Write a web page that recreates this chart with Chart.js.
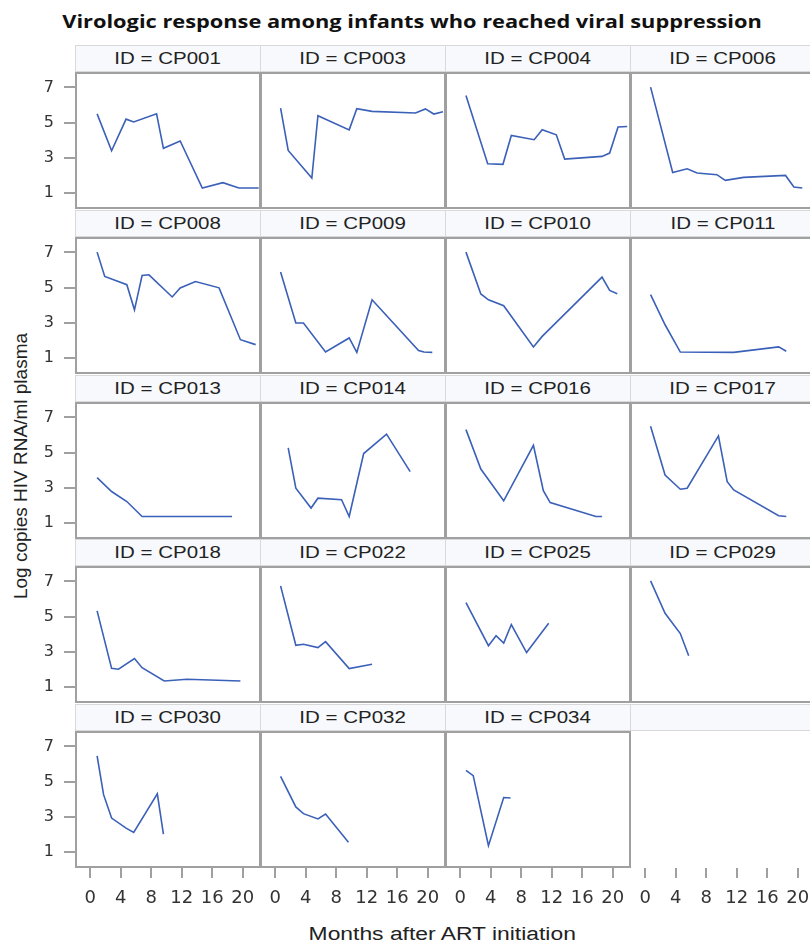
<!DOCTYPE html>
<html>
<head>
<meta charset="utf-8">
<script src="https://cdn.jsdelivr.net/npm/chart.js@4.4.0/dist/chart.umd.min.js"></script>
<style>
  html, body { margin: 0; padding: 0; background: #fff; overflow: hidden; }
  #page { position: relative; width: 810px; height: 944px; overflow: hidden; background: #fff; }
  #page canvas { position: absolute; }
  .title { position: absolute; left: 0; width: 825px; top: 9px; line-height: 24px; text-align: center;
           font: bold 18px "Open Sans", sans-serif; color: #111; white-space: nowrap; }
  .title span, .hdr span, .xtitle span { display: inline-block; transform-origin: 50% 50%; }
  .title span { transform: scaleX(1.21); }
  .hdr { position: absolute; box-sizing: border-box; background: #f7f9fd; border: 1px solid #d9d9d9;
         text-align: center; font: 16px "Liberation Sans", Arial, sans-serif; color: #222; white-space: nowrap; }
  .hdr span { transform: scaleX(1.28); }
  .xtitle { position: absolute; left: 0; width: 885px; top: 924px; line-height: 20px; text-align: center;
            font: 18px "Liberation Sans", Arial, sans-serif; color: #222; white-space: nowrap; }
  .xtitle span { transform: scaleX(1.27); }
  .ytitle { position: absolute; width: 400px; height: 20px; line-height: 20px; left: -180px; top: 456px;
            text-align: center; transform: rotate(-90deg); transform-origin: 50% 50%;
            font: 19px "Liberation Sans", Arial, sans-serif; color: #222; white-space: nowrap; }
</style>
</head>
<body>
<div id="page"></div>
<script>
// Text
const chartTitle = 'Virologic response among infants who reached viral suppression';
const xAxisTitle = 'Months after ART initiation';
const yAxisTitle = 'Log copies HIV RNA/ml plasma';

// Axis ticks shared by every panel
const xTickValues = [0, 4, 8, 12, 16, 20];
const yTickValues = [1, 3, 5, 7];

// Panel order (row by row, four per row)
const panelIds = ['CP001', 'CP003', 'CP004', 'CP006', 'CP008', 'CP009', 'CP010', 'CP011',
                  'CP013', 'CP014', 'CP016', 'CP017', 'CP018', 'CP022', 'CP025', 'CP029',
                  'CP030', 'CP032', 'CP034'];

// Months after ART initiation and log10 viral load per infant
const cp001Months = [0.9, 2.8, 4.7, 5.7, 8.7, 9.6, 11.8, 14.7, 17.4, 19.5, 22.1];
const cp001Log    = [5.50, 3.40, 5.20, 5.04, 5.50, 3.54, 3.96, 1.28, 1.59, 1.28, 1.28];
const cp003Months = [0.7, 1.7, 4.8, 5.6, 9.7, 10.7, 12.7, 18.4, 19.7, 20.8, 22.0];
const cp003Log    = [5.83, 3.42, 1.85, 5.39, 4.59, 5.79, 5.64, 5.55, 5.78, 5.49, 5.62];
const cp004Months = [0.75, 3.6, 5.6, 6.7, 9.7, 10.75, 12.6, 13.7, 18.6, 19.6, 20.7, 21.9];
const cp004Log    = [6.55, 2.66, 2.63, 4.27, 4.03, 4.60, 4.31, 2.93, 3.08, 3.27, 4.75, 4.78];
const cp006Months = [0.7, 3.6, 5.5, 6.8, 9.4, 10.5, 12.9, 18.4, 19.5, 20.6];
const cp006Log    = [7.02, 2.17, 2.38, 2.14, 2.04, 1.72, 1.89, 2.00, 1.34, 1.28];
const cp008Months = [0.9, 1.9, 4.8, 5.8, 6.8, 7.7, 10.75, 11.8, 13.8, 16.9, 19.7, 21.7];
const cp008Log    = [7.02, 5.64, 5.17, 3.74, 5.69, 5.73, 4.47, 4.98, 5.35, 4.99, 2.04, 1.76];
const cp009Months = [0.7, 2.7, 3.7, 6.6, 9.7, 10.7, 12.7, 18.8, 19.5, 20.6];
const cp009Log    = [5.89, 2.99, 2.99, 1.34, 2.14, 1.32, 4.31, 1.43, 1.34, 1.32];
const cp010Months = [0.75, 2.7, 3.7, 5.7, 9.6, 10.75, 18.6, 19.6, 20.6];
const cp010Log    = [7.02, 4.64, 4.31, 3.97, 1.63, 2.23, 5.60, 4.84, 4.65];
const cp011Months = [0.7, 2.6, 4.6, 11.6, 17.5, 18.5];
const cp011Log    = [4.60, 2.89, 1.34, 1.32, 1.63, 1.38];
const cp013Months = [0.9, 2.8, 4.8, 6.8, 18.6];
const cp013Log    = [3.58, 2.79, 2.22, 1.37, 1.37];
const cp014Months = [1.7, 2.7, 4.7, 5.6, 8.7, 9.7, 11.6, 14.6, 17.7];
const cp014Log    = [5.27, 2.98, 1.85, 2.41, 2.32, 1.37, 4.95, 6.05, 3.92];
const cp016Months = [0.75, 2.7, 5.7, 9.6, 10.9, 11.8, 17.8, 18.6];
const cp016Log    = [6.31, 4.07, 2.26, 5.42, 2.84, 2.16, 1.37, 1.37];
const cp017Months = [0.7, 2.6, 4.6, 5.5, 9.6, 10.75, 11.6, 17.5, 18.5];
const cp017Log    = [6.50, 3.73, 2.92, 2.98, 5.95, 3.35, 2.88, 1.41, 1.37];
const cp018Months = [0.9, 2.8, 3.7, 5.8, 6.8, 9.7, 12.7, 19.7];
const cp018Log    = [5.33, 2.06, 2.01, 2.62, 2.10, 1.34, 1.44, 1.34];
const cp022Months = [0.7, 2.7, 3.7, 5.6, 6.6, 9.7, 12.7];
const cp022Log    = [6.75, 3.37, 3.43, 3.24, 3.58, 2.05, 2.29];
const cp025Months = [0.75, 3.7, 4.7, 5.7, 6.7, 8.7, 11.6];
const cp025Log    = [5.80, 3.35, 3.92, 3.50, 4.55, 2.96, 4.63];
const cp029Months = [0.7, 2.6, 4.6, 5.7];
const cp029Log    = [7.03, 5.19, 4.04, 2.78];
const cp030Months = [0.9, 1.75, 2.8, 4.7, 5.7, 8.8, 9.6];
const cp030Log    = [6.47, 4.26, 2.93, 2.36, 2.11, 4.31, 2.02];
const cp032Months = [0.7, 2.7, 3.7, 5.6, 6.6, 9.6];
const cp032Log    = [5.30, 3.56, 3.18, 2.88, 3.16, 1.55];
const cp034Months = [0.75, 1.7, 3.7, 5.7, 6.6];
const cp034Log    = [5.64, 5.34, 1.36, 4.10, 4.07];

const monthsById = {
  CP001: cp001Months, CP003: cp003Months, CP004: cp004Months, CP006: cp006Months,
  CP008: cp008Months, CP009: cp009Months, CP010: cp010Months, CP011: cp011Months,
  CP013: cp013Months, CP014: cp014Months, CP016: cp016Months, CP017: cp017Months,
  CP018: cp018Months, CP022: cp022Months, CP025: cp025Months, CP029: cp029Months,
  CP030: cp030Months, CP032: cp032Months, CP034: cp034Months
};
const logById = {
  CP001: cp001Log, CP003: cp003Log, CP004: cp004Log, CP006: cp006Log,
  CP008: cp008Log, CP009: cp009Log, CP010: cp010Log, CP011: cp011Log,
  CP013: cp013Log, CP014: cp014Log, CP016: cp016Log, CP017: cp017Log,
  CP018: cp018Log, CP022: cp022Log, CP025: cp025Log, CP029: cp029Log,
  CP030: cp030Log, CP032: cp032Log, CP034: cp034Log
};

// Panel grid geometry
const COLS = 4, ROWS = 5;
const PLOT_W = 186, PLOT_H = 137;
const Y_AXIS_W = 75, X_AXIS_H = 76, HEADER_H = 27;
const colLeft = c => 75 + c * 185;
const rowTop = r => Math.round(72 + r * 164.75);
const X_MIN = -2.0, X_MAX = 22.4;
const Y_MIN = 0.09, Y_MAX = 7.88;

const LINE_COLOR = '#3b60b8';
const FRAME_COLOR = '#a0a0a0';
const TICK_COLOR = '#a0a0a0';
const LABEL_COLOR = '#333';

const page = document.getElementById('page');

// Titles
const t = document.createElement('div');
t.className = 'title';
t.innerHTML = '<span></span>';
t.firstChild.textContent = chartTitle;
page.appendChild(t);

const xt = document.createElement('div');
xt.className = 'xtitle';
xt.innerHTML = '<span></span>';
xt.firstChild.textContent = xAxisTitle;
page.appendChild(xt);

const yt = document.createElement('div');
yt.className = 'ytitle';
yt.textContent = yAxisTitle;
page.appendChild(yt);

// Frame around each populated panel's plot area
const framePlugin = {
  id: 'panelFrame',
  afterDatasetsDraw(chart, args, opts) {
    if (!opts.show) return;
    const a = chart.chartArea;
    const ctx = chart.ctx;
    ctx.save();
    ctx.strokeStyle = FRAME_COLOR;
    ctx.lineWidth = 2;
    ctx.strokeRect(a.left + 1, a.top + 1, a.right - a.left - 2, a.bottom - a.top - 2);
    ctx.restore();
  }
};

// Axes keep a fixed size and never push the plot area inwards
const fixAxis = (size, horizontal) => s => {
  if (horizontal) s.height = size; else s.width = size;
  s.paddingTop = 0; s.paddingBottom = 0; s.paddingLeft = 0; s.paddingRight = 0;
};

for (let i = 0; i < ROWS * COLS; i++) {
  const r = Math.floor(i / COLS), c = i % COLS;
  const id = panelIds[i];
  const x0 = colLeft(c), y0 = rowTop(r);

  // Panel header strip
  const hdr = document.createElement('div');
  hdr.className = 'hdr';
  hdr.style.left = x0 + 'px';
  hdr.style.top = (y0 - HEADER_H) + 'px';
  hdr.style.width = PLOT_W + 'px';
  hdr.style.height = HEADER_H + 'px';
  hdr.style.lineHeight = (HEADER_H - 2) + 'px';
  hdr.innerHTML = '<span></span>';
  hdr.firstChild.textContent = id ? 'ID = ' + id : '';
  page.appendChild(hdr);

  const showY = c === 0;
  const showX = r === ROWS - 1;
  const w = PLOT_W + (showY ? Y_AXIS_W : 0);
  const h = PLOT_H + (showX ? X_AXIS_H : 0);
  const cv = document.createElement('canvas');
  cv.width = w; cv.height = h;
  cv.style.width = w + 'px'; cv.style.height = h + 'px';
  cv.style.left = (x0 - (showY ? Y_AXIS_W : 0)) + 'px';
  cv.style.top = y0 + 'px';
  page.appendChild(cv);

  const datasets = id ? [{
    data: monthsById[id].map((m, k) => ({ x: m, y: logById[id][k] })),
    borderColor: LINE_COLOR,
    borderWidth: 1.6,
    pointRadius: 0,
    tension: 0,
    fill: false
  }] : [];

  const xScale = {
    type: 'linear', min: X_MIN, max: X_MAX, display: showX,
    afterBuildTicks: s => { s.ticks = xTickValues.map(v => ({ value: v })); },
    grid: { drawOnChartArea: false, drawTicks: true, tickLength: 10, color: TICK_COLOR, lineWidth: 2 },
    border: { display: false },
    ticks: { font: { family: 'DejaVu Sans', size: 18 }, color: LABEL_COLOR, padding: 10,
             maxRotation: 0, autoSkip: false }
  };
  if (showX) xScale.afterFit = fixAxis(X_AXIS_H, true);

  const yScale = {
    type: 'linear', min: Y_MIN, max: Y_MAX, display: showY,
    afterBuildTicks: s => { s.ticks = yTickValues.map(v => ({ value: v })); },
    grid: { drawOnChartArea: false, drawTicks: true, tickLength: 11, color: TICK_COLOR, lineWidth: 2 },
    border: { display: false },
    ticks: { font: { family: 'DejaVu Sans', size: 16 }, color: LABEL_COLOR, padding: 10, autoSkip: false }
  };
  if (showY) yScale.afterFit = fixAxis(Y_AXIS_W, false);

  new Chart(cv, {
    type: 'line',
    data: { datasets },
    options: {
      responsive: false,
      animation: false,
      devicePixelRatio: 1,
      events: [],
      layout: { padding: 0, autoPadding: false },
      scales: { x: xScale, y: yScale },
      plugins: {
        legend: { display: false },
        tooltip: { enabled: false },
        title: { display: false },
        panelFrame: { show: !!id }
      }
    },
    plugins: [framePlugin]
  });
}
</script>
</body>
</html>
